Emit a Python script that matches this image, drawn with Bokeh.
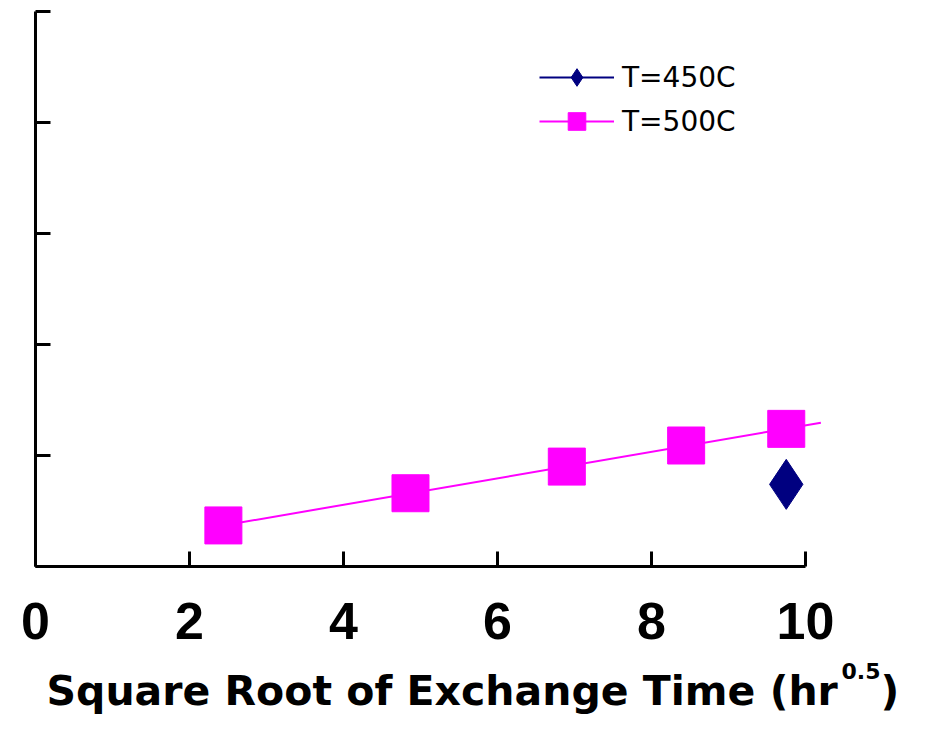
import numpy as np
from bokeh.plotting import figure
from bokeh.models import Range1d, FixedTicker, Label, Legend, LegendItem
from bokeh.embed import file_html
from bokeh.resources import INLINE

# ---- data ----
x_500 = [2.44, 4.87, 6.90, 8.45, 9.75]
y_500 = [0.37, 0.66, 0.90, 1.09, 1.24]
x_450 = [9.75]
y_450 = [0.74]
trend_end_x = 10.2
x_ticks = [0, 2, 4, 6, 8, 10]
y_ticks = [0, 1, 2, 3, 4, 5]
series_labels = ["T=450C", "T=500C"]
x_title = "Square Root of Exchange Time (hr"
x_title_sup = "0.5"
x_title_end = ")"

NAVY = "#000080"
MAGENTA = "#FF00FF"
FONT = "DejaVu Sans"

W, H = 914, 715
X0 = 35         # pixel column of x = 0
PX_X = 77.0     # pixels per x unit
PX_Y = 111.0    # pixels per y unit
Y0 = 566        # pixel row of y = 0


def dx(px):
    return (px - X0) / PX_X


def dy(py):
    return (Y0 - py) / PX_Y


p = figure(width=W, height=H, output_backend="svg", toolbar_location=None,
           x_range=Range1d(dx(0), dx(W)), y_range=Range1d(dy(H), dy(0)),
           min_border_left=0, min_border_right=0, min_border_top=0,
           min_border_bottom=0)
p.outline_line_color = None
p.grid.visible = False
p.background_fill_color = "white"
p.border_fill_color = "white"

for ax in (p.xaxis, p.yaxis):
    ax.fixed_location = 0
    ax.axis_line_width = 3
    ax.axis_line_color = "black"
    ax.major_tick_line_width = 3
    ax.major_tick_line_color = "black"
    ax.major_tick_in = 15
    ax.major_tick_out = 0
    ax.minor_tick_line_color = None

p.xaxis.ticker = FixedTicker(ticks=x_ticks)
p.xaxis.bounds = (0, 10)
p.xaxis.major_label_text_font = "Liberation Sans"
p.xaxis.major_label_text_font_style = "bold"
p.xaxis.major_label_text_font_size = "52px"
p.xaxis.major_label_text_color = "black"
p.xaxis.major_label_standoff = 36

p.yaxis.ticker = FixedTicker(ticks=y_ticks)
p.yaxis.bounds = (0, 5)
p.yaxis.major_label_overrides = {t: "" for t in y_ticks}
p.yaxis.major_label_standoff = 0

# trend line for T=500C (linear least squares of the data)
slope, intercept = np.polyfit(x_500, y_500, 1)
tx = [x_500[0], trend_end_x]
ty = [slope * v + intercept for v in tx]
r_trend = p.line(tx, ty, line_color=MAGENTA, line_width=2)
r_line450 = p.line(x_450, y_450, line_color=NAVY, line_width=2)

r_sq = p.scatter(x_500, y_500, marker="square", size=37, fill_color=MAGENTA,
                 line_color=MAGENTA)
r_di = p.scatter(x_450, y_450, marker="diamond", size=50, fill_color=NAVY,
                 line_color=NAVY)

legend = Legend(items=[
    LegendItem(label=series_labels[0], renderers=[r_line450, r_di]),
    LegendItem(label=series_labels[1], renderers=[r_trend, r_sq]),
], location=(539, H - 143))
legend.glyph_width = 75
legend.glyph_height = 44
legend.spacing = 0
legend.padding = 0
legend.margin = 0
legend.label_standoff = 8
legend.label_text_font = FONT
legend.label_text_font_size = "28px"
legend.label_text_color = "black"
legend.border_line_color = None
legend.background_fill_alpha = 0
p.add_layout(legend, "center")

# x-axis title with superscript (labels are placed by their vertical centre)
common = dict(text_font=FONT, text_font_style="bold", text_align="left",
              text_baseline="middle", text_color="black")
p.add_layout(Label(x=dx(46), y=dy(690), text=x_title,
                   text_font_size="41px", **common))
p.add_layout(Label(x=dx(841), y=dy(670), text=x_title_sup,
                   text_font_size="22px", **common))
p.add_layout(Label(x=dx(880), y=dy(690), text=x_title_end,
                   text_font_size="41px", **common))

open("out.html", "w").write(file_html(p, INLINE))
